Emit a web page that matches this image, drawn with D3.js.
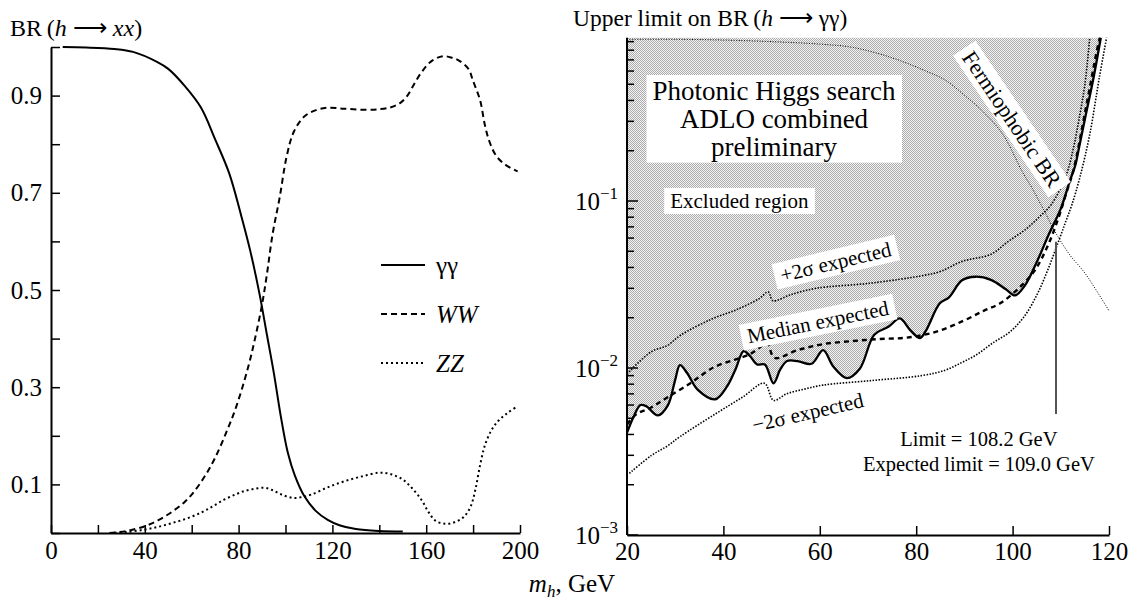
<!DOCTYPE html>
<html>
<head>
<meta charset="utf-8">
<script src="https://cdn.jsdelivr.net/npm/d3@7"></script>
<style>
body { margin: 0; background: #fff; }
text { font-family: "Liberation Serif", "Times New Roman", serif; fill: #000; }
</style>
</head>
<body>
<svg id="chart" width="1131" height="600"></svg>
<script>
// ---- left panel: branching ratios of a fermiophobic higgs, [m_h, BR]
var brGG = [[5,1.0],[15,0.999],[27,0.996],[35,0.99],[45,0.97],[50,0.955],[57,0.92],[64,0.875],[70,0.81],[76,0.74],[81,0.655],[85,0.58],[89,0.49],[92,0.41],[95,0.33],[98,0.24],[101,0.165],[104,0.118],[108,0.076],[113,0.045],[118,0.027],[123,0.016],[130,0.008],[140,0.004],[150,0.003]];
var brWW = [[25,0],[32,0.004],[40,0.014],[46,0.027],[52,0.045],[57,0.064],[61,0.085],[66,0.12],[70,0.155],[75,0.21],[79,0.26],[84,0.34],[87,0.4],[90,0.47],[92,0.53],[94.5,0.615],[97.5,0.69],[100.5,0.775],[103.5,0.825],[108,0.857],[113,0.87],[118,0.875],[125,0.873],[133,0.871],[140,0.872],[145,0.876],[149,0.885],[152,0.9],[155,0.925],[158,0.948],[162,0.97],[167,0.981],[171,0.978],[174,0.972],[178,0.955],[180,0.93],[183,0.89],[185,0.84],[187,0.805],[190,0.775],[194,0.757],[199,0.744]];
var brZZ = [[25,0],[32,0.002],[40,0.007],[46,0.013],[52,0.021],[58,0.03],[64,0.042],[69,0.055],[74,0.069],[79,0.08],[83,0.087],[87,0.091],[91,0.093],[94,0.089],[97,0.082],[100,0.076],[103.5,0.072],[107,0.074],[111,0.079],[118,0.094],[125.5,0.107],[133,0.117],[140,0.124],[145,0.121],[150,0.11],[154,0.092],[158,0.068],[161,0.043],[164,0.025],[168,0.019],[172,0.022],[176,0.033],[179,0.055],[181,0.09],[183,0.14],[185,0.18],[188,0.213],[191,0.232],[195,0.248],[199,0.261]];
var legendNames = ["\u03b3\u03b3", "WW", "ZZ"];
var leftYLabels = [0.1, 0.3, 0.5, 0.7, 0.9];
var leftXLabels = [0, 40, 80, 120, 160, 200];

// ---- right panel: upper limit on BR(h -> gamma gamma), [m_h, BR]
var obsLimit = [[20,0.0041],[21.5,0.0052],[22.8,0.006],[24,0.0059],[26.4,0.0052],[28.5,0.006],[30,0.0085],[31,0.0104],[32.5,0.0093],[34.7,0.0074],[38.3,0.0065],[40.8,0.0078],[42.5,0.0098],[44.2,0.0126],[45.5,0.0118],[47,0.0105],[48.6,0.0105],[50.4,0.0081],[51.8,0.0098],[53.2,0.011],[55.4,0.011],[58.3,0.0106],[60.7,0.0128],[62.8,0.0102],[65.6,0.0087],[68.3,0.0099],[71.3,0.0158],[74.3,0.0177],[76.6,0.0198],[78.8,0.0168],[80.8,0.0151],[82,0.0167],[84.9,0.0244],[86.8,0.0265],[89.5,0.0335],[92.3,0.0352],[95.5,0.0337],[98.6,0.0296],[100.5,0.0272],[102.5,0.031],[105,0.043],[107.5,0.063],[110,0.09],[112,0.135],[113,0.163],[113.8,0.21],[115.2,0.33],[116.7,0.53],[118.3,0.95]];
var medianExp = [[20,0.0046],[22,0.0053],[25,0.0058],[28.5,0.0067],[33.4,0.0082],[38,0.0101],[42.3,0.0112],[45.5,0.0121],[48.6,0.0139],[49.2,0.014],[50.6,0.0115],[55.4,0.0128],[60.7,0.0139],[66.8,0.0145],[72,0.0149],[78.1,0.0152],[84.2,0.0165],[89.5,0.019],[94,0.022],[97.5,0.0245],[101.5,0.0305],[104.5,0.038],[107.3,0.054],[109.5,0.079],[111.2,0.113],[112.6,0.152],[115.2,0.36],[117.5,0.8],[118.1,0.95]];
var plus2Sig = [[20,0.0092],[25,0.0125],[28.3,0.0136],[31.1,0.0157],[37.5,0.0196],[42.5,0.0222],[47.4,0.026],[49.3,0.0285],[50.3,0.0253],[54,0.0275],[59.2,0.03],[70.5,0.0322],[81.9,0.036],[85.2,0.038],[89.5,0.0435],[95.5,0.048],[99,0.057],[102.8,0.068],[105.5,0.08],[108,0.095],[111,0.14],[112.5,0.2],[113.7,0.3],[115,0.5],[116,0.95]];
var minus2Sig = [[20.5,0.00234],[25.1,0.003],[28.3,0.0034],[31.1,0.0039],[38.3,0.0053],[44,0.0067],[48.5,0.0081],[50.4,0.0064],[53.1,0.007],[57,0.0075],[60.7,0.0079],[70.5,0.0084],[81.1,0.009],[86,0.0097],[89.5,0.0108],[92.5,0.012],[96,0.0142],[99.5,0.0165],[102.5,0.0205],[105.2,0.028],[107.5,0.04],[109.5,0.057],[111,0.075],[112.3,0.095],[114,0.14],[116,0.25],[118,0.55],[119.5,0.95]];
var fermioBR = [[20,0.93],[30,0.93],[40,0.92],[50,0.9],[60,0.87],[67,0.83],[75,0.72],[82,0.6],[86,0.53],[90,0.43],[94,0.34],[98,0.25],[102,0.15],[104,0.12],[106.5,0.088],[109,0.064],[112,0.047],[115,0.037],[120,0.022]];
var limitLine = [[109.0,0.0053],[109.0,0.057]];
var rightXLabels = [20, 40, 60, 80, 100, 120];
var rightDecades = [1e-3, 1e-2, 1e-1];
var rightTop = 0.95;

var svg = d3.select("#chart");

// scales
var xL = d3.scaleLinear().domain([0, 200]).range([51, 520]);
var yL = d3.scaleLinear().domain([0, 1]).range([533, 47]);
var xR = d3.scaleLinear().domain([20, 120]).range([627, 1109]);
var yR = d3.scaleLog().domain([1e-3, 1]).range([535, 34]);

// stipple for the excluded region
var pat = svg.append("defs").append("pattern")
	.attr("id", "stipple").attr("width", 2).attr("height", 2)
	.attr("patternUnits", "userSpaceOnUse");
pat.append("rect").attr("width", 2).attr("height", 2).attr("fill", "#f4f4f4");
pat.append("rect").attr("x", 0).attr("y", 0).attr("width", 1).attr("height", 1).attr("fill", "#ababab");
pat.append("rect").attr("x", 1).attr("y", 1).attr("width", 1).attr("height", 1).attr("fill", "#ababab");


// ============ left panel ============
var gL = svg.append("g");

var lineL = d3.line().x(d => xL(d[0])).y(d => yL(d[1])).curve(d3.curveCatmullRom.alpha(0.5));

gL.append("path").attr("d", lineL(brGG)).attr("fill", "none").attr("stroke", "#000").attr("stroke-width", 2);
gL.append("path").attr("d", lineL(brWW)).attr("fill", "none").attr("stroke", "#000").attr("stroke-width", 2).attr("stroke-dasharray", "6,4");
gL.append("path").attr("d", lineL(brZZ)).attr("fill", "none").attr("stroke", "#000").attr("stroke-width", 2).attr("stroke-dasharray", "2,3");

// axes
var axLx = gL.append("g").attr("transform", "translate(0," + yL(0) + ")")
	.call(d3.axisBottom(xL).tickValues(d3.range(0, 201, 20)).tickSizeInner(-8).tickSizeOuter(0).tickPadding(8)
		.tickFormat(d => leftXLabels.indexOf(d) >= 0 ? d : ""));
var axLy = gL.append("g").attr("transform", "translate(" + xL(0) + ",0)")
	.call(d3.axisLeft(yL).tickValues(d3.range(0, 10.5, 1).map(d => d / 10)).tickSizeInner(-9).tickSizeOuter(0).tickPadding(9)
		.tickFormat(d => leftYLabels.some(v => Math.abs(v - d) < 1e-6) ? d3.format(".1f")(d) : ""));

[axLx, axLy].forEach(function (ax) {
	ax.select(".domain").attr("stroke", "#000").attr("stroke-width", 2);
	ax.selectAll(".tick line").attr("stroke", "#000").attr("stroke-width", 1.5);
	ax.selectAll(".tick text").attr("font-size", 25).attr("font-family", "Liberation Serif");
});

// y title
var tL = gL.append("text").attr("x", 10).attr("y", 36).attr("font-size", 24);
tL.append("tspan").text("BR\u2009(");
tL.append("tspan").attr("font-style", "italic").text("h");
tL.append("tspan").text(" \u27f6 ");
tL.append("tspan").attr("font-style", "italic").text("xx");
tL.append("tspan").text(")");

// legend
var legDash = ["", "6,4", "2,3"];
legendNames.forEach(function (name, i) {
	var ly = 265 + i * 49;
	gL.append("line").attr("x1", 381).attr("x2", 425).attr("y1", ly).attr("y2", ly)
		.attr("stroke", "#000").attr("stroke-width", 2).attr("stroke-dasharray", legDash[i] || null);
	gL.append("text").attr("x", 436).attr("y", ly + 9).attr("font-size", 25)
		.attr("font-style", i === 0 ? "normal" : "italic").text(name);
});

// shared x title
var tX = svg.append("text").attr("x", 572).attr("y", 592).attr("text-anchor", "middle").attr("font-size", 25);
tX.append("tspan").attr("font-style", "italic").text("m");
tX.append("tspan").attr("font-style", "italic").attr("font-size", 17).attr("dy", 5).text("h");
tX.append("tspan").attr("dy", -5).text(", GeV");


// ============ right panel ============
var gR = svg.append("g");

var lineR = d3.line().x(d => xR(d[0])).y(d => yR(d[1])).curve(d3.curveCatmullRom.alpha(0.5));

// excluded region: above the observed limit up to the frame top
gR.append("path")
	.attr("d", lineR(obsLimit) + "L" + xR(20) + "," + yR(rightTop) + "Z")
	.attr("fill", "url(#stipple)").attr("stroke", "none");

gR.append("path").attr("d", lineR(fermioBR)).attr("fill", "none").attr("stroke", "#000").attr("stroke-width", 1).attr("stroke-dasharray", "1,1.6");
gR.append("path").attr("d", lineR(plus2Sig)).attr("fill", "none").attr("stroke", "#000").attr("stroke-width", 1.6).attr("stroke-dasharray", "1.5,1.5");
gR.append("path").attr("d", lineR(minus2Sig)).attr("fill", "none").attr("stroke", "#000").attr("stroke-width", 1.6).attr("stroke-dasharray", "1.5,1.5");
gR.append("path").attr("d", lineR(medianExp)).attr("fill", "none").attr("stroke", "#000").attr("stroke-width", 2.4).attr("stroke-dasharray", "5,4");
gR.append("path").attr("d", lineR(obsLimit)).attr("fill", "none").attr("stroke", "#000").attr("stroke-width", 2.3);
gR.append("path").attr("d", d3.line().x(d => xR(d[0])).y(d => yR(d[1]))(limitLine)).attr("stroke", "#555").attr("stroke-width", 2);

// axes
var axRx = gR.append("g").attr("transform", "translate(0," + yR(1e-3) + ")")
	.call(d3.axisBottom(xR).tickValues(rightXLabels).tickSizeInner(-9).tickSizeOuter(0).tickPadding(7));
axRx.select(".domain").attr("stroke", "#000").attr("stroke-width", 2);
axRx.selectAll(".tick line").attr("stroke", "#000").attr("stroke-width", 1.5);
axRx.selectAll(".tick text").attr("font-size", 25).attr("font-family", "Liberation Serif");

var logTicks = [];
rightDecades.forEach(function (d) { for (var k = 1; k <= 9; k++) logTicks.push(d * k); });
gR.append("line").attr("x1", xR(20)).attr("x2", xR(20)).attr("y1", yR(1e-3)).attr("y2", yR(rightTop))
	.attr("stroke", "#000").attr("stroke-width", 2);
gR.selectAll(".ytick").data(logTicks).enter().append("line")
	.attr("x1", xR(20)).attr("x2", (d, i) => xR(20) + (i % 9 === 0 ? 11 : 7))
	.attr("y1", d => yR(d)).attr("y2", d => yR(d))
	.attr("stroke", "#000").attr("stroke-width", 1.5);
rightDecades.forEach(function (d) {
	var t = gR.append("text").attr("x", xR(20) - 9).attr("y", yR(d) + 9).attr("text-anchor", "end").attr("font-size", 25);
	t.append("tspan").text("10");
	t.append("tspan").attr("font-size", 17).attr("dy", -11).text("\u2212" + Math.round(-Math.log10(d)));
});

// y title
var tR = gR.append("text").attr("x", 573).attr("y", 26).attr("font-size", 23.5);
tR.append("tspan").text("Upper limit on BR\u2009(");
tR.append("tspan").attr("font-style", "italic").text("h");
tR.append("tspan").text(" \u27f6 \u03b3\u03b3)");

// boxed / rotated annotations, anchored in data coordinates
function note(lines, m, v, angle, size, boxed) {
	var g = gR.append("g").attr("transform", "translate(" + xR(m) + "," + yR(v) + ") rotate(" + angle + ")");
	var bg = g.append("rect").attr("fill", "#fff");
	var t = g.append("text").attr("text-anchor", "middle").attr("font-size", size);
	lines.forEach(function (s, i) {
		t.append("tspan").attr("x", 0).attr("y", (i - (lines.length - 1) / 2) * size * 1.03 + size * 0.33).text(s);
	});
	if (boxed) {
		var b = t.node().getBBox();
		bg.attr("x", b.x - 6).attr("y", b.y - 1).attr("width", b.width + 12).attr("height", b.height + 2);
	} else bg.remove();
}

note(["Photonic Higgs search", "ADLO combined", "preliminary"], 50.5, 0.31, 0, 27, true);
note(["Excluded region"], 43.3, 0.1, 0, 21, true);
note(["Fermiophobic BR"], 99.8, 0.31, 56, 22, true);
note(["+2\u03c3 expected"], 63.3, 0.043, -13.5, 21, true);
note(["Median expected"], 59.6, 0.0188, -11.5, 21, true);
note(["\u22122\u03c3 expected"], 57.5, 0.0054, -13, 21, false);

gR.append("text").attr("x", xR(93)).attr("y", yR(0.0034)).attr("text-anchor", "middle").attr("font-size", 20.5).text("Limit = 108.2 GeV");
gR.append("text").attr("x", xR(93)).attr("y", yR(0.00242)).attr("text-anchor", "middle").attr("font-size", 20.5).text("Expected limit = 109.0 GeV");
</script>
</body>
</html>
